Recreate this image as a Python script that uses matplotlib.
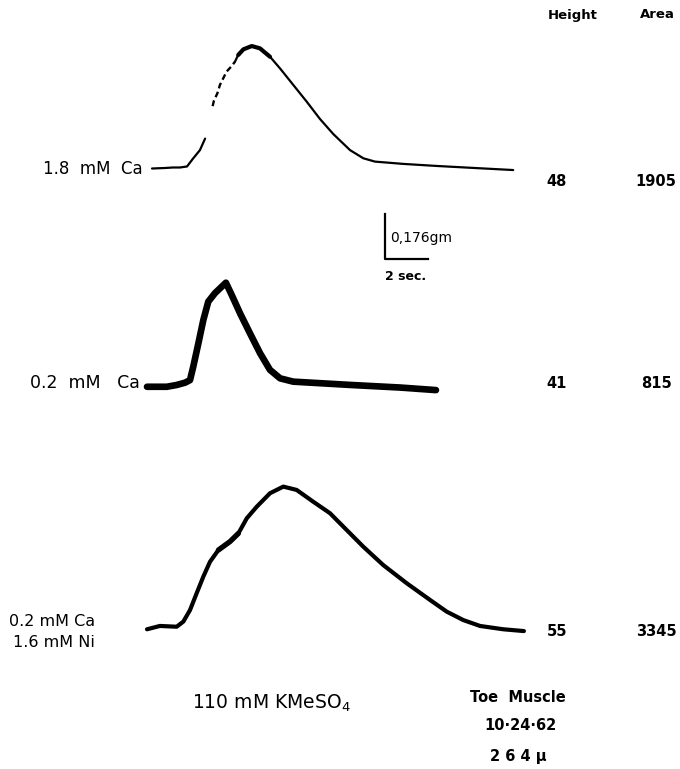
import numpy as np
import matplotlib
matplotlib.use("Agg")
import matplotlib.pyplot as plt

# tension records (time in s from start of record, tension in gm above baseline)
labels = ["1.8  mM  Ca", "0.2  mM   Ca", "0.2 mM Ca\n1.6 mM Ni"]
heights = ["48", "41", "55"]
areas = ["1905", "815", "3345"]

# 1.8 mM Ca: points 0-7 solid, 8-15 broken (pen skipped), 15- solid
t_ca18 = [0, 0.60, 0.98, 1.30, 1.63, 1.91, 2.23, 2.47,
          2.82, 2.88, 3.04, 3.16, 3.29, 3.47, 3.71, 3.86,
          4.01, 4.25, 4.64, 5.02, 5.49, 5.95, 6.57, 7.20, 7.81, 8.43, 9.21,
          9.83, 10.37, 11.69, 13.24, 14.79, 16.80]
f_ca18 = [-0.002, 0.0, 0.002, 0.002, 0.006, 0.037, 0.070, 0.115,
          0.242, 0.263, 0.292, 0.325, 0.347, 0.377, 0.399, 0.416,
          0.442, 0.464, 0.477, 0.468, 0.435, 0.390, 0.325, 0.259, 0.192, 0.133, 0.070,
          0.038, 0.025, 0.016, 0.008, 0.001, -0.008]

t_ca02 = [0, 0.92, 1.38, 1.77, 2.0, 2.15, 2.39, 2.62, 2.85, 3.16, 3.47, 3.67, 3.94,
          4.33, 4.79, 5.26, 5.72, 6.19, 6.80, 9.49, 11.77, 13.44]
f_ca02 = [-0.003, -0.003, 0.004, 0.013, 0.023, 0.075, 0.167, 0.258, 0.330, 0.363, 0.388,
          0.404, 0.356, 0.284, 0.206, 0.128, 0.063, 0.030, 0.017, 0.004, -0.006, -0.016]

t_ni = [0, 0.60, 1.38, 1.69, 2.0, 2.31, 2.62, 2.93, 3.32, 3.86, 4.25, 4.64, 5.10, 5.72,
        6.34, 6.96, 7.73, 8.51, 9.29, 10.06, 10.99, 12.08, 13.16, 13.94, 14.71, 15.49,
        16.57, 17.53]
f_ni = [-0.005, 0.008, 0.005, 0.025, 0.070, 0.136, 0.201, 0.259, 0.305, 0.338, 0.370,
        0.429, 0.474, 0.527, 0.553, 0.540, 0.494, 0.449, 0.383, 0.318, 0.246, 0.175,
        0.110, 0.064, 0.031, 0.008, -0.005, -0.012]

# calibration of the recorder: 2 sec and 0.176 gm
CAL_T = 2.0
CAL_F = 0.176
PX_S = 21.5          # pixels per second
PX_GM = 45 / CAL_F   # pixels per gm

W, H = 680, 769


def to_px(t, f, x0, y0):
    t = np.asarray(t, float)
    f = np.asarray(f, float)
    return x0 + t * PX_S, y0 - f * PX_GM


fig = plt.figure(figsize=(W / 100, H / 100), dpi=100)
ax = fig.add_axes([0, 0, 1, 1])
ax.set_xlim(0, W)
ax.set_ylim(H, 0)
ax.axis("off")

ink = "black"
fnt = dict(color=ink, family="DejaVu Sans")
pen = dict(color=ink, solid_capstyle="round", solid_joinstyle="round")

# 1.8 mM Ca -- the pen skipped on the fast rise
x, y = to_px(t_ca18, f_ca18, 152, 168)
ax.plot(x[:8], y[:8], lw=1.6, **pen)
ax.plot(x[8:16], y[8:16], color=ink, lw=1.7, ls=(0, (2.5, 1.5)))
ax.plot(x[15:], y[15:], lw=1.6, **pen)
ax.plot(x[16:21], y[16:21], lw=3.0, **pen)

# 0.2 mM Ca
x, y = to_px(t_ca02, f_ca02, 147, 386)
ax.plot(x, y, lw=4.8, **pen)

# 0.2 mM Ca + 1.6 mM Ni
x, y = to_px(t_ni, f_ni, 147, 628)
ax.plot(x, y, lw=3.0, **pen)
ax.plot(x[8:11], y[8:11], lw=3.8, **pen)

# calibration bars
cx, cy = 385, 259
ax.plot([cx, cx, cx + CAL_T * PX_S], [cy - CAL_F * PX_GM, cy, cy], color=ink, lw=1.6)
ax.text(cx + 5, 238, "0,176gm", fontsize=10, va="center", ha="left", **fnt)
ax.text(cx, 276, "2 sec.", fontsize=9, va="center", ha="left", fontweight="bold", **fnt)

# row labels and measurements
label_xy = [(143, 169), (140, 383), (95, 632)]
label_fs = [12, 12.5, 11.5]
row_y = [181, 384, 632]
for lab, (lx, ly), fs, h, a, ry in zip(labels, label_xy, label_fs, heights, areas, row_y):
    ax.text(lx, ly, lab, fontsize=fs, ha="right", va="center", linespacing=1.45, **fnt)
    ax.text(557, ry, h, fontsize=10.5, ha="center", va="center", fontweight="bold", **fnt)
    ax.text(656, ry, a, fontsize=10.5, ha="center", va="center", fontweight="bold", **fnt)

ax.text(573, 15, "Height", fontsize=9.5, ha="center", va="center", fontweight="bold", **fnt)
ax.text(657, 15, "Area", fontsize=9.5, ha="center", va="center", fontweight="bold", **fnt)

ax.text(271, 703, r"110 mM KMeSO$_4$", fontsize=13.5, ha="center", va="center", **fnt)
ax.text(518, 698, "Toe  Muscle", fontsize=10.5, ha="center", va="center", fontweight="bold", **fnt)
ax.text(520, 726, "10·24·62", fontsize=10.5, ha="center", va="center", fontweight="bold", **fnt)
ax.text(518, 756, "2 6 4 µ", fontsize=10.5, ha="center", va="center", fontweight="bold", **fnt)

fig.savefig("out.png", dpi=100, facecolor="white")
